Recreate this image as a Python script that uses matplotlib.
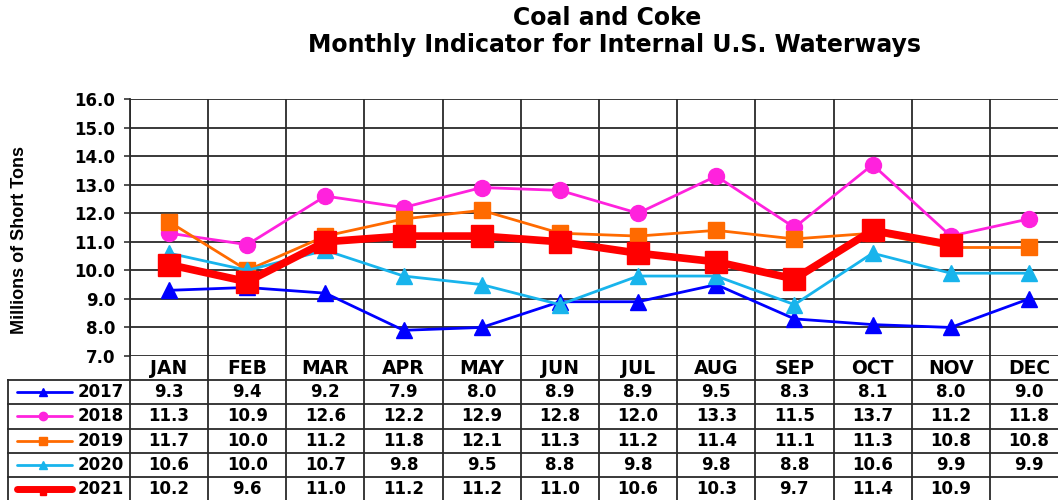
import numpy as np
import matplotlib
matplotlib.use("Agg")
import matplotlib.pyplot as plt
from matplotlib import font_manager as fm

months = ["JAN", "FEB", "MAR", "APR", "MAY", "JUN", "JUL", "AUG", "SEP", "OCT", "NOV", "DEC"]
years = ["2017", "2018", "2019", "2020", "2021"]
v2017 = [9.3, 9.4, 9.2, 7.9, 8.0, 8.9, 8.9, 9.5, 8.3, 8.1, 8.0, 9.0]
v2018 = [11.3, 10.9, 12.6, 12.2, 12.9, 12.8, 12.0, 13.3, 11.5, 13.7, 11.2, 11.8]
v2019 = [11.7, 10.0, 11.2, 11.8, 12.1, 11.3, 11.2, 11.4, 11.1, 11.3, 10.8, 10.8]
v2020 = [10.6, 10.0, 10.7, 9.8, 9.5, 8.8, 9.8, 9.8, 8.8, 10.6, 9.9, 9.9]
v2021 = [10.2, 9.6, 11.0, 11.2, 11.2, 11.0, 10.6, 10.3, 9.7, 11.4, 10.9, None]
yticks = [7.0, 8.0, 9.0, 10.0, 11.0, 12.0, 13.0, 14.0, 15.0, 16.0]

series = [v2017, v2018, v2019, v2020, v2021]
colors = ["#0000FF", "#FF22DD", "#FF6A00", "#18B4EC", "#FF0000"]
markers = ["^", "o", "s", "^", "s"]
msizes = [12, 11.5, 11, 12, 16]
lwidths = [2.0, 2.0, 2.0, 2.0, 5.5]

avail = {f.name for f in fm.fontManager.ttflist}
narrow = "Liberation Sans Narrow" if "Liberation Sans Narrow" in avail else "Liberation Sans"
num_font = "DejaVu Sans"

W, H = 1058, 500
fig = plt.figure(figsize=(W / 100, H / 100), dpi=100)

left_px, right_px, top_px, bot_px = 130, 1068, 99, 356
ax = fig.add_axes([left_px / W, 1 - bot_px / H, (right_px - left_px) / W, (bot_px - top_px) / H])
x = np.arange(len(months))
for vals, c, m, ms, lw in zip(series, colors, markers, msizes, lwidths):
    y = np.array([np.nan if v is None else v for v in vals], dtype=float)
    ax.plot(x, y, color=c, lw=lw, marker=m, ms=ms, mec=c, mfc=c, zorder=3)

ax.set_xlim(-0.5, 11.5)
ax.set_ylim(7, 16)
ax.set_yticks(yticks)
ax.set_yticklabels([f"{v:.1f}" for v in yticks], fontsize=12, fontweight="bold", family=num_font)
ax.set_xticks(x)
ax.set_xticklabels([])
ax.set_xticks(np.arange(-0.5, 12, 1), minor=True)
ax.tick_params(axis="x", which="both", length=0)
ax.tick_params(axis="y", which="major", length=4.5, width=1.2, color="#333333", pad=6)
ax.grid(axis="y", which="major", color="#2a2a2a", lw=1.3)
ax.grid(axis="x", which="minor", color="#2a2a2a", lw=1.3)
for s in ax.spines.values():
    s.set_visible(False)
ax.spines["left"].set_visible(True)
ax.spines["left"].set_color("#2a2a2a")
ax.spines["left"].set_linewidth(1.3)
ax.set_axisbelow(True)

# table below
col_w = (right_px - left_px) / 12.0
tleft = -0.5 - (left_px - 8) / col_w
tab_top, tab_bot = 356, 501
tax = fig.add_axes([8 / W, 1 - tab_bot / H, (right_px - 8) / W, (tab_bot - tab_top) / H])
tax.set_xlim(tleft, 11.5)
tax.set_ylim(0, 6)
tax.axis("off")
lc, lwg = "#2a2a2a", 1.3
for yy in range(1, 6):
    tax.plot([tleft, 11.5], [yy, yy], color=lc, lw=lwg, clip_on=False)
for xx in np.arange(-0.5, 12, 1):
    tax.plot([xx, xx], [0, 6], color=lc, lw=lwg, clip_on=False)
tax.plot([tleft, tleft], [0, 5], color=lc, lw=lwg, clip_on=False)

for i, mname in enumerate(months):
    tax.text(i, 5.5, mname, ha="center", va="center", fontsize=13.5, fontweight="bold", family=num_font)

leg_x0 = tleft + (17 - 8) / col_w
leg_x1 = tleft + (72 - 8) / col_w
leg_xm = tleft + (43 - 8) / col_w
year_x = tleft + (124 - 8) / col_w
for r, (yr, vals, c, m, lw) in enumerate(zip(years, series, colors, markers, lwidths)):
    yc = 4.5 - r
    tax.plot([leg_x0, leg_x1], [yc, yc], color=c, lw=5.0 if r == 4 else 2.0,
             solid_capstyle="round", clip_on=False)
    tax.plot([leg_xm], [yc - (0.12 if r == 4 else 0)], marker=m, color=c, ms=6 if r < 4 else 5, clip_on=False)
    tax.text(year_x, yc, yr, ha="right", va="center", fontsize=12, fontweight="bold", family=num_font)
    for i, v in enumerate(vals):
        if v is not None:
            tax.text(i, yc, f"{v:.1f}", ha="center", va="center", fontsize=12, fontweight="bold", family=num_font)

fig.text(607 / W, 1 - 18 / H, "Coal and Coke", ha="center", va="center",
         fontsize=17, fontweight="bold", family="DejaVu Sans")
fig.text(615 / W, 1 - 45 / H, "Monthly Indicator for Internal U.S. Waterways", ha="center", va="center",
         fontsize=17, fontweight="bold", family="DejaVu Sans")
fig.text(20 / W, 1 - 240 / H, "Millions of Short Tons", rotation=90, ha="center", va="center",
         fontsize=13, fontweight="bold", family=narrow)

fig.savefig("out.png", dpi=100)
